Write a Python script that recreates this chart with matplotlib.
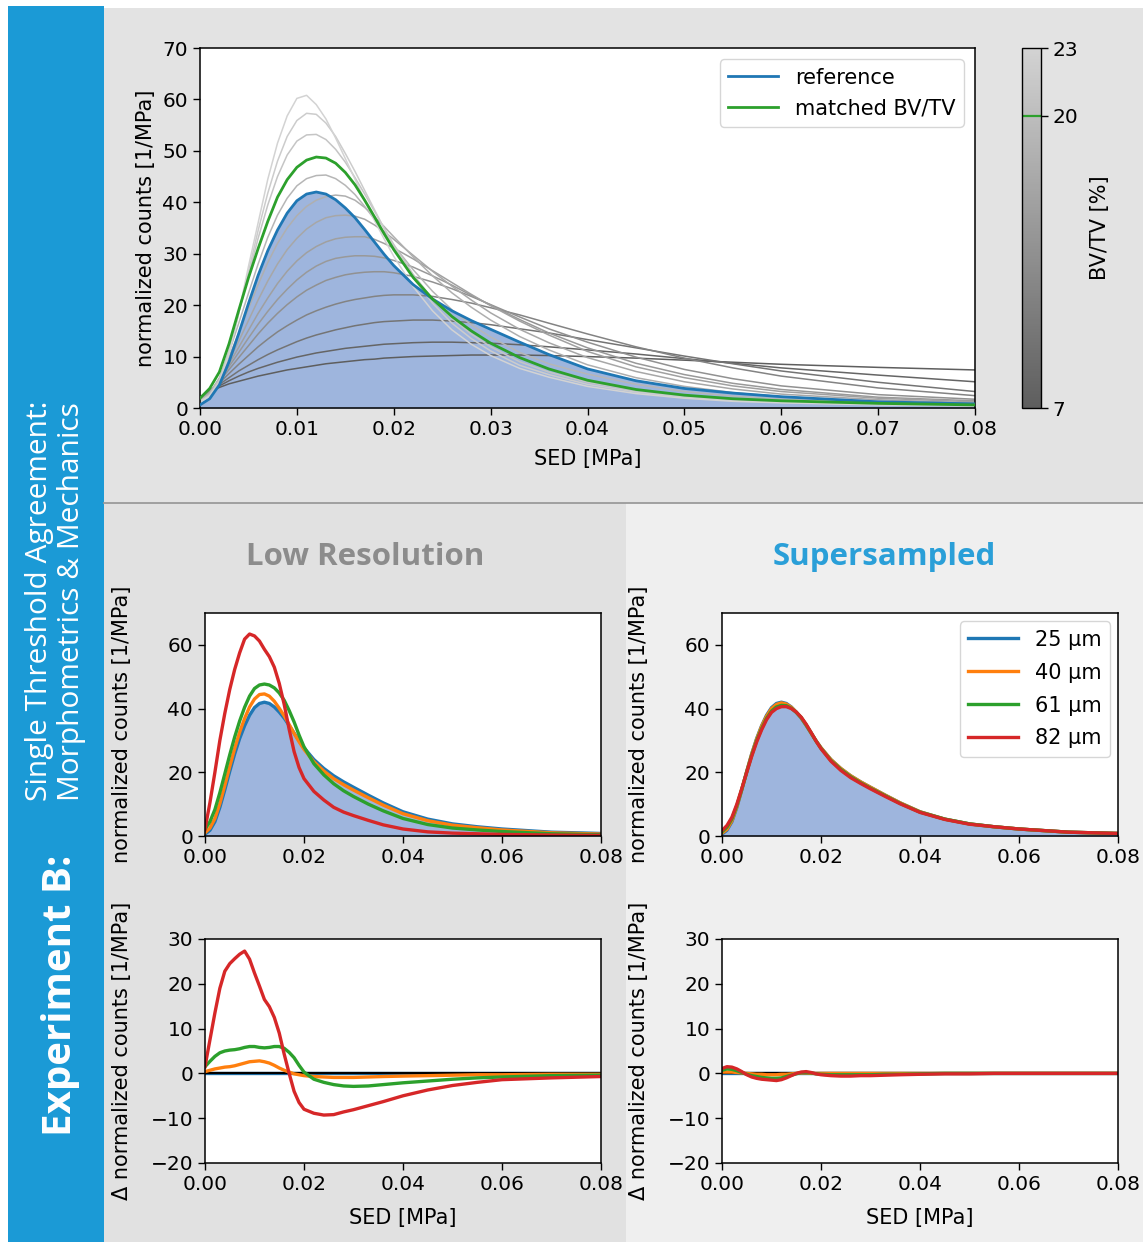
import numpy as np
import matplotlib.pyplot as plt
from matplotlib.colors import LinearSegmentedColormap, Normalize
from matplotlib.cm import ScalarMappable
from matplotlib.patches import Rectangle
from matplotlib.lines import Line2D
from matplotlib.ticker import FormatStrFormatter

plt.rcParams['font.family'] = ['DejaVu Sans']
plt.rcParams['axes.unicode_minus'] = True
plt.rcParams['lines.solid_joinstyle'] = 'round'

# ============================================================
# DATA
# ============================================================
sed = [0, .001, .002, .003, .004, .005, .006, .007, .008, .009, .010,
       .011, .012, .013, .014, .015, .016, .017, .018, .019, .020,
       .022, .024, .026, .028, .030, .033, .036, .040, .045, .050, .055, .060, .070, .080]

reference = [0.6, 1.8, 4.5, 9.0, 14.5, 20.3, 25.8, 30.6, 34.6, 37.9, 40.3,
             41.6, 42.0, 41.6, 40.5, 38.9, 37.0, 34.7, 32.3, 29.9, 27.7,
             24.0, 21.2, 18.9, 17.0, 15.3, 12.8, 10.4, 7.6, 5.3, 3.8, 2.9, 2.2, 1.2, 0.8]
matched = [1.9, 3.8, 7.0, 12.5, 19.0, 25.3, 31.0, 36.3, 41.0, 44.4, 46.8,
           48.2, 48.8, 48.6, 47.6, 45.8, 43.4, 40.4, 37.2, 33.9, 30.8,
           25.4, 21.2, 17.8, 15.0, 12.6, 9.8, 7.6, 5.4, 3.6, 2.5, 1.8, 1.4, 0.9, 0.6]
matched_bvtv = 20

bvtv_levels = [7, 8, 10, 12, 14, 15, 16, 17, 18, 19, 21, 22, 23]
bvtv_curves = [
    [2.2, 3.2, 4.0, 4.7, 5.2, 5.7, 6.2, 6.6, 7.0, 7.4, 7.7,
     8.0, 8.3, 8.6, 8.8, 9.0, 9.2, 9.4, 9.5, 9.7, 9.8,
     10.0, 10.1, 10.2, 10.3, 10.3, 10.3, 10.2, 10.0, 9.7, 9.3, 8.9, 8.5, 7.9, 7.4],
    [2.1, 3.2, 4.3, 5.3, 6.2, 7.0, 7.7, 8.3, 8.9, 9.4, 9.9,
     10.3, 10.7, 11.0, 11.3, 11.6, 11.8, 12.0, 12.2, 12.4, 12.5,
     12.7, 12.8, 12.8, 12.7, 12.6, 12.3, 11.9, 11.3, 10.5, 9.6, 8.7, 7.8, 6.4, 5.1],
    [2.0, 3.3, 4.6, 5.9, 7.2, 8.3, 9.4, 10.4, 11.3, 12.1, 12.9,
     13.6, 14.2, 14.7, 15.2, 15.6, 16.0, 16.3, 16.6, 16.8, 16.9,
     17.1, 17.1, 16.9, 16.6, 16.2, 15.4, 14.6, 13.3, 11.7, 10.1, 8.6, 7.2, 5.0, 3.2],
    [2.0, 3.3, 4.9, 6.7, 8.5, 10.2, 11.9, 13.4, 14.8, 16.0, 17.1,
     18.1, 18.9, 19.6, 20.2, 20.7, 21.1, 21.4, 21.7, 21.9, 22.0,
     22.0, 21.7, 21.1, 20.4, 19.5, 18.1, 16.5, 14.4, 11.9, 9.7, 7.8, 6.2, 3.9, 2.4],
    [1.9, 3.2, 5.2, 7.5, 9.8, 12.1, 14.4, 16.5, 18.4, 20.1, 21.6,
     22.9, 23.9, 24.8, 25.4, 25.9, 26.2, 26.4, 26.5, 26.5, 26.3,
     25.6, 24.5, 23.2, 21.7, 20.1, 17.7, 15.4, 12.8, 9.9, 7.5, 5.7, 4.3, 2.6, 1.7],
    [1.8, 3.1, 5.4, 8.1, 10.8, 13.6, 16.3, 18.8, 21.1, 23.1, 24.9,
     26.4, 27.6, 28.5, 29.1, 29.4, 29.6, 29.6, 29.5, 29.2, 28.7,
     27.4, 25.7, 23.9, 21.9, 20.0, 17.2, 14.6, 11.7, 8.7, 6.5, 4.8, 3.6, 2.1, 1.4],
    [1.7, 3.0, 5.5, 8.6, 11.8, 15.1, 18.4, 21.4, 24.2, 26.6, 28.6,
     30.2, 31.4, 32.3, 32.9, 33.2, 33.3, 33.3, 32.8, 32.0, 31.1,
     29.0, 26.7, 24.4, 22.1, 19.9, 16.9, 14.2, 11.0, 8.0, 5.9, 4.3, 3.2, 1.9, 1.2],
    [1.6, 2.9, 5.7, 9.2, 13.0, 17.0, 21.0, 24.7, 28.0, 30.8, 33.0,
     34.8, 36.1, 37.0, 37.4, 37.5, 37.3, 36.7, 35.6, 34.3, 32.8,
     29.7, 26.6, 23.7, 21.0, 18.5, 15.3, 12.7, 9.8, 7.1, 5.1, 3.7, 2.7, 1.6, 1.0],
    [1.5, 2.8, 5.8, 10.0, 14.5, 19.3, 24.0, 28.3, 32.0, 35.0, 37.4,
     39.2, 40.4, 41.1, 41.4, 41.2, 40.4, 39.0, 37.2, 35.3, 33.3,
     29.4, 25.7, 22.4, 19.6, 17.1, 13.9, 11.3, 8.4, 5.9, 4.2, 3.0, 2.2, 1.3, 0.8],
    [1.4, 2.7, 5.8, 10.8, 16.5, 22.3, 28.0, 33.2, 37.5, 40.8, 43.2,
     44.6, 45.2, 45.3, 44.6, 43.3, 41.5, 39.2, 36.7, 34.1, 31.6,
     26.9, 22.7, 19.1, 16.2, 13.8, 10.8, 8.6, 6.6, 4.6, 3.2, 2.3, 1.7, 1.0, 0.65],
    [1.3, 2.5, 5.5, 11.2, 18.5, 25.8, 33.0, 39.5, 45.0, 49.2, 51.9,
     53.1, 53.2, 52.2, 50.3, 47.8, 44.8, 41.6, 38.3, 35.0, 31.8,
     26.0, 21.2, 17.4, 14.4, 11.9, 9.0, 7.0, 5.0, 3.4, 2.4, 1.7, 1.2, 0.75, 0.5],
    [1.2, 2.4, 5.2, 10.8, 18.5, 26.5, 34.5, 41.8, 48.0, 52.8, 55.9,
     57.3, 57.1, 55.4, 52.8, 49.5, 46.0, 42.3, 38.6, 34.9, 31.4,
     25.3, 20.4, 16.5, 13.5, 11.1, 8.3, 6.5, 4.6, 3.1, 2.1, 1.5, 1.1, 0.7, 0.45],
    [1.2, 2.3, 5.0, 10.5, 18.5, 27.5, 36.0, 44.5, 51.5, 56.8, 60.2,
     60.8, 59.0, 56.2, 52.5, 48.5, 44.5, 40.4, 36.5, 32.9, 29.5,
     23.6, 18.9, 15.2, 12.4, 10.2, 7.7, 6.0, 4.2, 2.8, 1.9, 1.3, 1.0, 0.6, 0.4],
]

resolutions = ['25 µm', '40 µm', '61 µm', '82 µm']

lowres_25 = reference
lowres_40 = [1.0, 2.5, 5.5, 10.2, 15.9, 21.8, 27.5, 32.6, 36.9, 40.5, 43.0,
             44.4, 44.6, 43.9, 42.3, 40.1, 37.7, 35.0, 32.2, 29.6, 27.2,
             23.3, 20.4, 18.0, 16.1, 14.4, 12.0, 9.7, 7.0, 4.8, 3.4, 2.6, 1.9, 1.0, 0.6]
lowres_61 = [2.1, 4.5, 8.3, 13.6, 19.5, 25.5, 31.1, 36.1, 40.4, 43.9, 46.3,
             47.4, 47.7, 47.4, 46.5, 44.9, 42.6, 39.4, 35.8, 31.7, 28.0,
             22.7, 19.2, 16.4, 14.2, 12.4, 10.0, 7.9, 5.5, 3.6, 2.5, 1.9, 1.4, 0.7, 0.4]
lowres_82 = [2.1, 10.5, 20.0, 30.0, 38.5, 46.0, 52.3, 57.5, 61.8, 63.4, 62.8,
             61.2, 58.6, 56.3, 53.0, 47.9, 41.3, 33.5, 26.5, 21.5, 18.0,
             14.0, 11.3, 9.0, 7.5, 6.4, 4.9, 3.5, 2.2, 1.3, 0.9, 0.7, 0.5, 0.3, 0.2]

super_25 = reference
super_40 = [0.9, 2.1, 4.8, 9.2, 14.6, 20.3, 25.7, 30.4, 34.4, 37.6, 40.0,
            41.3, 41.8, 41.4, 40.4, 38.9, 37.1, 34.8, 32.3, 29.9, 27.7,
            24.0, 21.2, 18.9, 17.0, 15.3, 12.8, 10.4, 7.6, 5.3, 3.8, 2.9, 2.2, 1.2, 0.8]
super_61 = [1.3, 2.8, 5.4, 9.6, 14.7, 20.1, 25.3, 29.9, 33.7, 36.9, 39.2,
            40.5, 41.0, 40.9, 40.1, 38.8, 37.2, 34.9, 32.4, 29.8, 27.5,
            23.7, 20.9, 18.6, 16.7, 15.0, 12.6, 10.2, 7.5, 5.3, 3.8, 2.9, 2.2, 1.2, 0.8]
super_82 = [1.7, 3.3, 5.9, 10.0, 14.9, 20.0, 25.0, 29.5, 33.3, 36.5, 38.8,
            40.0, 40.6, 40.6, 40.0, 38.9, 37.3, 35.1, 32.5, 29.8, 27.4,
            23.5, 20.6, 18.3, 16.5, 14.8, 12.4, 10.1, 7.4, 5.2, 3.7, 2.9, 2.2, 1.2, 0.8]

delta_low_25 = [0.0] * len(sed)
delta_low_40 = [0.4, 0.7, 1.0, 1.2, 1.4, 1.5, 1.7, 2.0, 2.3, 2.6, 2.7,
                2.8, 2.6, 2.3, 1.8, 1.2, 0.7, 0.3, -0.1, -0.3, -0.5,
                -0.7, -0.8, -0.9, -0.9, -0.9, -0.8, -0.7, -0.6, -0.5, -0.4, -0.3, -0.3, -0.2, -0.2]
delta_low_61 = [1.5, 2.7, 3.8, 4.6, 5.0, 5.2, 5.3, 5.5, 5.8, 6.0, 6.0,
                5.8, 5.7, 5.8, 6.0, 6.0, 5.6, 4.7, 3.5, 1.8, 0.3,
                -1.3, -2.0, -2.5, -2.8, -2.9, -2.8, -2.5, -2.1, -1.7, -1.3, -1.0, -0.8, -0.5, -0.4]
delta_low_82 = [1.5, 7.5, 13.5, 19.0, 22.8, 24.5, 25.6, 26.6, 27.3, 25.5, 22.4,
                19.5, 16.5, 14.9, 12.5, 9.0, 4.3, 0.0, -4.0, -6.5, -8.0,
                -8.9, -9.3, -9.2, -8.6, -8.1, -7.2, -6.3, -5.0, -3.7, -2.7, -2.0, -1.4, -1.0, -0.7]

delta_sup_25 = [0.0] * len(sed)
delta_sup_40 = [0.3, 0.3, 0.3, 0.2, 0.1, 0.0, -0.1, -0.2, -0.2, -0.3, -0.3,
                -0.3, -0.2, -0.2, -0.1, 0.0, 0.1, 0.1, 0.0, 0.0, 0.0,
                0.0, 0.0, 0.0, 0.0, 0.0, 0.0, 0.0, 0.0, 0.0, 0.0, 0.0, 0.0, 0.0, 0.0]
delta_sup_61 = [0.7, 1.0, 0.9, 0.6, 0.2, -0.2, -0.5, -0.7, -0.9, -1.0, -1.1,
                -1.1, -1.0, -0.7, -0.4, -0.1, 0.2, 0.2, 0.1, -0.1, -0.2,
                -0.3, -0.3, -0.3, -0.3, -0.3, -0.2, -0.2, -0.1, 0.0, 0.0, 0.0, 0.0, 0.0, 0.0]
delta_sup_82 = [1.1, 1.5, 1.4, 1.0, 0.4, -0.3, -0.8, -1.1, -1.3, -1.4, -1.5,
                -1.6, -1.4, -1.0, -0.5, 0.0, 0.3, 0.4, 0.2, -0.1, -0.3,
                -0.5, -0.6, -0.6, -0.5, -0.5, -0.4, -0.3, -0.2, -0.1, -0.1, 0.0, 0.0, 0.0, 0.0]

# ============================================================
# STYLE
# ============================================================
BLUE = '#1f77b4'
ORANGE = '#ff7f0e'
GREEN = '#2ca02c'
RED = '#d62728'
FILL = '#9eb5dd'
SIDEBAR = '#1b9ad6'
res_colors = [BLUE, ORANGE, GREEN, RED]

TICK_FS = 14.5
LABEL_FS = 15
LEGEND_FS = 15

W, H = 1143, 1242
fig = plt.figure(figsize=(W / 100, H / 100), dpi=100, facecolor='white')


def fx(px):
    return px / W


def fy(py):
    return 1 - py / H


def rect_px(x0, y0, x1, y1, color):
    fig.patches.append(Rectangle((fx(x0), fy(y1)), (x1 - x0) / W, (y1 - y0) / H,
                                 transform=fig.transFigure, facecolor=color,
                                 edgecolor='none', zorder=-10))


def axes_px(x0, y0, x1, y1):
    return fig.add_axes([fx(x0), fy(y1), (x1 - x0) / W, (y1 - y0) / H])


def style_axes(ax):
    ax.tick_params(labelsize=TICK_FS, length=5, width=1.0)
    for s in ax.spines.values():
        s.set_linewidth(1.1)


# ------------------------------------------------------------
# backgrounds
# ------------------------------------------------------------
rect_px(8, 6, 104, H, SIDEBAR)
rect_px(104, 8, W, 503, '#e3e3e3')
rect_px(104, 503, 626, H, '#e1e1e1')
rect_px(626, 503, W, H, '#efefef')
fig.add_artist(Line2D([fx(104), 1], [fy(503), fy(503)], transform=fig.transFigure,
                      color='#9a9a9a', lw=1.3))

# sidebar text
fig.text(fx(61), fy(995), 'Experiment B:', rotation=90, color='white',
         fontsize=29, fontweight='bold', family='Open Sans',
         ha='center', va='center')
fig.text(fx(40), fy(801), 'Single Threshold Agreement:', rotation=90,
         rotation_mode='anchor', color='white', fontsize=21.5,
         family='Open Sans', ha='left', va='center')
fig.text(fx(71), fy(801), 'Morphometrics & Mechanics', rotation=90,
         rotation_mode='anchor', color='white', fontsize=21.5,
         family='Open Sans', ha='left', va='center')

# ============================================================
# TOP — SED distributions for all BV/TV
# ============================================================
cmap = LinearSegmentedColormap.from_list('bvtv', ['#5e5e5e', '#d3d3d3'])
norm = Normalize(vmin=7, vmax=23)

ax = axes_px(200, 48, 975, 408)
ax.fill_between(sed, 0, reference, color=FILL, lw=0, zorder=1)
for lvl, curve in zip(bvtv_levels, bvtv_curves):
    ax.plot(sed, curve, color=cmap(norm(lvl)), lw=1.1, zorder=2)
ax.plot(sed, reference, color=BLUE, lw=2.0, label='reference', zorder=3)
ax.plot(sed, matched, color=GREEN, lw=2.0, label='matched BV/TV', zorder=4)
ax.set_xlim(0, 0.08)
ax.set_ylim(0, 70)
ax.set_xticks(np.arange(0, 0.081, 0.01))
ax.set_yticks(np.arange(0, 71, 10))
ax.xaxis.set_major_formatter(FormatStrFormatter('%.2f'))
ax.set_xlabel('SED [MPa]', fontsize=LABEL_FS, labelpad=7)
ax.set_ylabel('normalized counts [1/MPa]', fontsize=LABEL_FS)
ax.yaxis.set_label_coords(-0.057, 0.5)
style_axes(ax)
ax.legend(loc='upper right', fontsize=LEGEND_FS, handlelength=2.4,
          borderaxespad=0.55)

cax = axes_px(1022, 48, 1041, 408)
sm = ScalarMappable(norm=norm, cmap=cmap)
cbar = fig.colorbar(sm, cax=cax, ticks=[7, 20, 23])
cbar.ax.axhline(matched_bvtv, color=GREEN, lw=1.6)
cbar.ax.tick_params(labelsize=TICK_FS, length=5, width=1.0)
cbar.set_label('BV/TV [%]', fontsize=LABEL_FS, labelpad=8)
cbar.outline.set_linewidth(1.0)

# ============================================================
# BOTTOM — low resolution vs supersampled
# ============================================================
fig.text(fx(365), fy(557), 'Low Resolution', color='#8c8c8c', fontsize=22.5,
         fontweight='bold', family='Open Sans', ha='center', va='center')
fig.text(fx(884), fy(557), 'Supersampled', color='#2a9fd8', fontsize=22.5,
         fontweight='bold', family='Open Sans', ha='center', va='center')

panels = [
    (205, [lowres_25, lowres_40, lowres_61, lowres_82],
     [delta_low_25, delta_low_40, delta_low_61, delta_low_82], False),
    (722, [super_25, super_40, super_61, super_82],
     [delta_sup_25, delta_sup_40, delta_sup_61, delta_sup_82], True),
]

for x0, curves, deltas, show_legend in panels:
    # distributions
    ax1 = axes_px(x0, 613, x0 + 396, 836)
    ax1.fill_between(sed, 0, reference, color=FILL, lw=0, zorder=1)
    for lab, col, c in zip(resolutions, res_colors, curves):
        ax1.plot(sed, c, color=col, lw=2.4, label=lab, zorder=2)
    ax1.set_xlim(0, 0.08)
    ax1.set_ylim(0, 70)
    ax1.set_xticks(np.arange(0, 0.081, 0.02))
    ax1.set_yticks([0, 20, 40, 60])
    ax1.xaxis.set_major_formatter(FormatStrFormatter('%.2f'))
    ax1.set_ylabel('normalized counts [1/MPa]', fontsize=LABEL_FS)
    ax1.yaxis.set_label_coords(-0.184, 0.5)
    style_axes(ax1)
    if show_legend:
        ax1.legend(loc='upper right', fontsize=LEGEND_FS, handlelength=2.4,
                   labelspacing=0.62, borderaxespad=0.4)

    # differences to reference
    ax2 = axes_px(x0, 939, x0 + 396, 1163)
    ax2.plot(sed, deltas[0], color=BLUE, lw=2.4, zorder=1)
    ax2.axhline(0, color='black', lw=1.6, zorder=1.5)
    for col, d in zip(res_colors[1:], deltas[1:]):
        ax2.plot(sed, d, color=col, lw=2.4, zorder=2)
    ax2.set_xlim(0, 0.08)
    ax2.set_ylim(-20, 30)
    ax2.set_xticks(np.arange(0, 0.081, 0.02))
    ax2.set_yticks(np.arange(-20, 31, 10))
    ax2.xaxis.set_major_formatter(FormatStrFormatter('%.2f'))
    ax2.set_xlabel('SED [MPa]', fontsize=LABEL_FS, labelpad=10)
    ax2.set_ylabel('Δ normalized counts [1/MPa]', fontsize=LABEL_FS)
    ax2.yaxis.set_label_coords(-0.184, 0.5)
    style_axes(ax2)

fig.savefig('out.png', dpi=100, facecolor='white')
